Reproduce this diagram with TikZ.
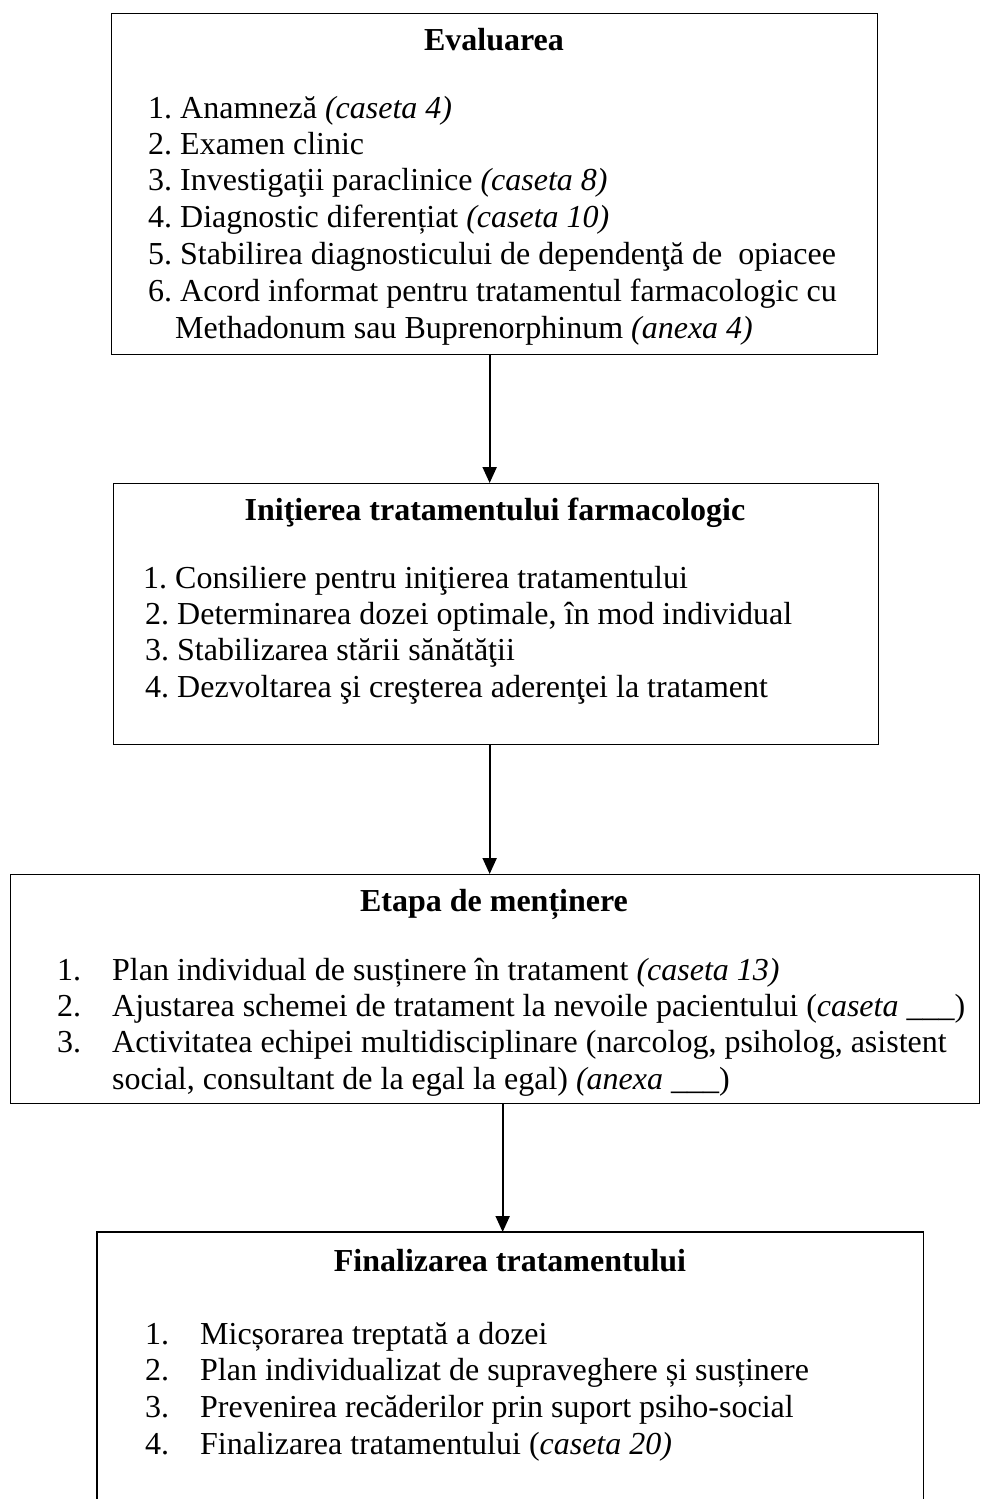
\documentclass[tikz,border=0pt]{standalone}
\usepackage{fontspec}
\setmainfont{Liberation Serif}
\usetikzlibrary{arrows.meta}
\frenchspacing
\begin{document}
\begin{tikzpicture}[x=1pt,y=-1pt,
 box/.style={draw, line width=1.3pt, inner sep=0pt, anchor=north west},
 openbox/.style={inner sep=0pt, anchor=north west},
 txt/.style={anchor=base west, inner sep=0pt, font=\fontsize{32}{36.8}\selectfont\frenchspacing},
 ttl/.style={anchor=base, inner sep=0pt, font=\fontsize{32}{36.8}\selectfont\bfseries},
 arr/.style={line width=2pt, -{Triangle[width=14pt,length=16pt]}}]
\useasboundingbox (0,0) rectangle (980,1499);
\fill[white] (0,0) rectangle (980,1499);

% boxes
\node[box, minimum width=766pt, minimum height=341pt] (b1) at (111,13) {};
\node[box, minimum width=765pt, minimum height=261pt] (b2) at (113,483) {};
\node[box, minimum width=969pt, minimum height=229pt] (b3) at (10,874) {};
\node[openbox, minimum width=826pt, minimum height=270pt] (b4) at (97,1232) {};
\draw[line width=1.3pt] (b4.south west) -- (b4.north west) -- (b4.north east) -- (b4.south east);

% box 1
\node[ttl] (t1) at (494,50) {Evaluarea};
\node[txt] (t1a) at (148,118) {1. Anamneză \textit{(caseta 4)}};
\node[txt] (t1b) at (148,154) {2. Examen clinic};
\node[txt] (t1c) at (148,190) {3. Investigaţii paraclinice \textit{(caseta 8)}};
\node[txt] (t1d) at (148,227) {4. Diagnostic diferențiat \textit{(caseta 10)}};
\node[txt] (t1e) at (148,264) {5. Stabilirea diagnosticului de dependenţă de\ \ opiacee};
\node[txt] (t1f) at (148,301) {6. Acord informat pentru tratamentul farmacologic cu};
\node[txt] (t1g) at (175,338) {Methadonum sau Buprenorphinum \textit{(anexa 4)}};

% box 2
\node[ttl] (t2) at (495,520) {Iniţierea tratamentului farmacologic};
\node[txt] (t2a) at (143,588) {1. Consiliere pentru iniţierea tratamentului};
\node[txt] (t2b) at (145,624) {2. Determinarea dozei optimale, în mod individual};
\node[txt] (t2c) at (145,660) {3. Stabilizarea stării sănătăţii};
\node[txt] (t2d) at (145,697) {4. Dezvoltarea şi creşterea aderenţei la tratament};

% box 3
\node[ttl] (t3) at (494,911) {Etapa de menținere};
\node[txt] (t3a) at (57,980) {\makebox[55pt][l]{1.}Plan individual de susținere în tratament \textit{(caseta 13)}};
\node[txt] (t3b) at (57,1016) {\makebox[55pt][l]{2.}Ajustarea schemei de tratament la nevoile pacientului (\textit{caseta} \_\_\_)};
\node[txt] (t3c) at (57,1052) {\makebox[55pt][l]{3.}Activitatea echipei multidisciplinare (narcolog, psiholog, asistent};
\node[txt] (t3d) at (112,1089) {social, consultant de la egal la egal) \textit{(anexa} \_\_\_)};

% box 4
\node[ttl] (t4) at (510,1271) {Finalizarea tratamentului};
\node[txt] (t4a) at (145,1344) {\makebox[55pt][l]{1.}Micșorarea treptată a dozei};
\node[txt] (t4b) at (145,1380) {\makebox[55pt][l]{2.}Plan individualizat de supraveghere și susținere};
\node[txt] (t4c) at (145,1417) {\makebox[55pt][l]{3.}Prevenirea recăderilor prin suport psiho-social};
\node[txt] (t4d) at (145,1454) {\makebox[55pt][l]{4.}Finalizarea tratamentului (\textit{caseta 20)}};

% arrows
\coordinate (a1) at ([xshift=-5pt]b1.south);
\coordinate (a2) at ([xshift=-6.5pt]b2.south);
\coordinate (a3) at ([xshift=7.5pt]b3.south);
\draw[arr] (a1) -- (a1 |- b2.north);
\draw[arr] (a2) -- (a2 |- b3.north);
\draw[arr] (a3) -- (a3 |- b4.north);
\end{tikzpicture}
\end{document}
